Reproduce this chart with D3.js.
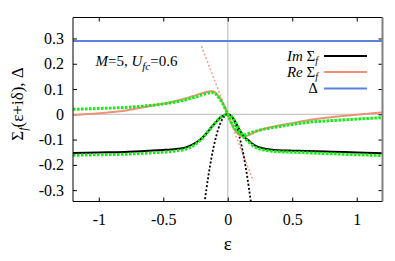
<!DOCTYPE html>
<html>
<head>
<meta charset="utf-8">
<script src="https://cdn.jsdelivr.net/npm/d3@7"></script>
<style>
  body { margin: 0; background: #fff; }
  svg text { font-family: "Liberation Serif", "Times New Roman", serif; fill: #000; }
</style>
</head>
<body>
<script>
var svgWidth = 395;
var svgHeight = 261;

var margin = { top: 17.5, right: 12.5, bottom: 59.5, left: 73 };
var width = svgWidth - margin.left - margin.right;
var height = svgHeight - margin.top - margin.bottom;

// tick values
var xTicks = [-1, -0.5, 0, 0.5, 1];
var yTicks = [-0.3, -0.2, -0.1, 0, 0.1, 0.2, 0.3];

// energy grid (eps) and curves
var epsGrid = [-1.2, -1.0, -0.8, -0.6, -0.5, -0.4, -0.35, -0.3, -0.25, -0.2, -0.15, -0.12, -0.1, -0.08, -0.05, -0.02, 0,
               0.02, 0.05, 0.08, 0.1, 0.13, 0.16, 0.2, 0.23, 0.3, 0.36, 0.5, 0.6, 0.8, 1.0, 1.2];
var imSigma = [-0.153, -0.151, -0.149, -0.144, -0.141, -0.137, -0.134, -0.126, -0.113, -0.094, -0.066, -0.047, -0.036, -0.024, -0.010, -0.002, 0,
               -0.004, -0.022, -0.051, -0.069, -0.090, -0.103, -0.120, -0.128, -0.137, -0.141, -0.144, -0.145, -0.148, -0.151, -0.154];
var reSigma = [-0.003, 0.004, 0.014, 0.033, 0.042, 0.053, 0.060, 0.067, 0.075, 0.083, 0.090, 0.091, 0.087, 0.077, 0.055, 0.025, 0,
               -0.026, -0.058, -0.078, -0.085, -0.088, -0.083, -0.073, -0.066, -0.055, -0.048, -0.035, -0.025, -0.012, -0.002, 0.008];
var imFit = [-0.162, -0.160, -0.158, -0.153, -0.150, -0.145, -0.141, -0.133, -0.118, -0.097, -0.067, -0.048, -0.036, -0.024, -0.010, -0.002, 0,
             -0.004, -0.024, -0.053, -0.072, -0.094, -0.108, -0.126, -0.134, -0.143, -0.147, -0.150, -0.152, -0.156, -0.160, -0.163];
var reFit = [0.020, 0.023, 0.027, 0.035, 0.041, 0.049, 0.054, 0.061, 0.068, 0.077, 0.084, 0.086, 0.083, 0.073, 0.052, 0.023, 0,
             -0.024, -0.053, -0.072, -0.080, -0.081, -0.076, -0.069, -0.065, -0.057, -0.052, -0.040, -0.033, -0.025, -0.019, -0.013];

// low energy expansions (dotted)
var parabEps = [-0.2, -0.18, -0.15, -0.1, -0.05, 0, 0.05, 0.1, 0.15, 0.18, 0.2];
var parabVal = [-0.43, -0.35, -0.243, -0.108, -0.027, 0, -0.027, -0.108, -0.243, -0.35, -0.43];
var slopeEps = [-0.204, 0.198];
var slopeVal = [0.27, -0.264];

var deltaValue = 0.29;

var serif = "'Liberation Serif', 'Times New Roman', serif";

var svg = d3.select("body")
  .append("svg")
  .attr("width", svgWidth)
  .attr("height", svgHeight);

var chartGroup = svg.append("g")
  .attr("transform", `translate(${margin.left}, ${margin.top})`);

var x = d3.scaleLinear().domain([-1.2, 1.2]).range([0, width]);
var y = d3.scaleLinear().domain([-0.345, 0.383]).range([height, 0]);

svg.append("defs").append("clipPath").attr("id", "plotclip")
  .append("rect").attr("width", width).attr("height", height);

// zero lines
chartGroup.append("line")
  .attr("x1", x(0)).attr("x2", x(0)).attr("y1", 0).attr("y2", height)
  .attr("stroke", "#c8c8c8").attr("stroke-width", 1.3);
chartGroup.append("line")
  .attr("x1", 0).attr("x2", width).attr("y1", y(0)).attr("y2", y(0))
  .attr("stroke", "#c8c8c8").attr("stroke-width", 1.3);

var fmt = d => d === 0 ? "0" : String(d);

// axes with inward ticks
chartGroup.append("g")
  .call(d3.axisLeft(y).tickValues(yTicks).tickSize(-4).tickPadding(9).tickFormat(fmt))
  .attr("font-family", serif).attr("font-size", 16)
  .call(g => g.select(".domain").remove());
chartGroup.append("g")
  .attr("transform", `translate(${width},0)`)
  .call(d3.axisRight(y).tickValues(yTicks).tickSize(-4).tickFormat(""))
  .call(g => g.select(".domain").remove());
chartGroup.append("g")
  .attr("transform", `translate(0,${height})`)
  .call(d3.axisBottom(x).tickValues(xTicks).tickSize(-4).tickPadding(12).tickFormat(fmt))
  .attr("font-family", serif).attr("font-size", 16)
  .call(g => g.select(".domain").remove());
chartGroup.append("g")
  .call(d3.axisTop(x).tickValues(xTicks).tickSize(-4).tickFormat(""))
  .call(g => g.select(".domain").remove());

var plot = chartGroup.append("g").attr("clip-path", "url(#plotclip)");

function pts(xs, ys) { return xs.map((e, i) => [e, ys[i]]); }

var line = d3.line()
  .x(d => x(d[0]))
  .y(d => y(d[1]))
  .curve(d3.curveMonotoneX);

// Delta
plot.append("line")
  .attr("x1", 0).attr("x2", width)
  .attr("y1", y(deltaValue)).attr("y2", y(deltaValue))
  .attr("stroke", "#5b84dd").attr("stroke-width", 2);

// dotted expansions
plot.append("path").datum(pts(slopeEps, slopeVal))
  .attr("d", line).attr("fill", "none")
  .attr("stroke", "#f4a08c").attr("stroke-width", 1.6).attr("stroke-dasharray", "2,2");
plot.append("path").datum(pts(parabEps, parabVal))
  .attr("d", line).attr("fill", "none")
  .attr("stroke", "#000").attr("stroke-width", 1.8).attr("stroke-dasharray", "2,2");

// self energy
plot.append("path").datum(pts(epsGrid, reSigma))
  .attr("d", line).attr("fill", "none")
  .attr("stroke", "#ee9078").attr("stroke-width", 2);
plot.append("path").datum(pts(epsGrid, imSigma))
  .attr("d", line).attr("fill", "none")
  .attr("stroke", "#000").attr("stroke-width", 2);

// green dotted fits
[reFit, imFit].forEach(function(vals) {
  plot.append("path").datum(pts(epsGrid, vals))
    .attr("d", line).attr("fill", "none")
    .attr("stroke", "#10f010").attr("stroke-width", 3).attr("stroke-dasharray", "2.5,1.5");
});

// frame
chartGroup.append("path")
  .attr("d", `M${width},0 H0 V${height} H${width}`)
  .attr("fill", "none").attr("stroke", "#000").attr("stroke-width", 1);
chartGroup.append("line")
  .attr("x1", width).attr("x2", width).attr("y1", 0).attr("y2", height)
  .attr("stroke", "#808080").attr("stroke-width", 2);

// annotation
var ann = svg.append("text").attr("x", 95.5).attr("y", 66).style("font-size", "15px");
ann.append("tspan").style("font-style", "italic").text("M");
ann.append("tspan").text("=5, ");
ann.append("tspan").style("font-style", "italic").text("U");
ann.append("tspan").style("font-style", "italic").style("font-size", "11px").attr("dy", 4).text("fc");
ann.append("tspan").attr("dy", -4).text("=0.6");

// legend
var legend = [
  { name: "Im", color: "#000" },
  { name: "Re", color: "#ee9078" },
  { name: null, color: "#5b84dd" }
];
var legRows = [56, 72, 88.5];
legend.forEach(function(d, i) {
  svg.append("line")
    .attr("x1", 324).attr("x2", 367)
    .attr("y1", legRows[i]).attr("y2", legRows[i])
    .attr("stroke", d.color).attr("stroke-width", 2);
  var t = svg.append("text")
    .attr("x", 318).attr("y", legRows[i] + 4.5)
    .attr("text-anchor", "end").style("font-size", "15px");
  if (d.name) {
    t.append("tspan").style("font-style", "italic").text(d.name + " ");
    t.append("tspan").text("\u03A3");
    t.append("tspan").style("font-style", "italic").style("font-size", "10px").attr("dy", 3).text("f");
  } else {
    t.append("tspan").text("\u0394");
  }
});

// axis labels
svg.append("text")
  .attr("x", x(0) + margin.left).attr("y", 250)
  .attr("text-anchor", "middle").style("font-size", "19px")
  .text("\u03B5");

var yl = svg.append("text")
  .attr("transform", "translate(23,104) rotate(-90)")
  .attr("text-anchor", "middle").style("font-size", "17px");
yl.append("tspan").text("\u03A3");
yl.append("tspan").style("font-style", "italic").style("font-size", "12px").attr("dy", 4).text("f");
yl.append("tspan").attr("dy", -4).text("(\u03B5+i\u03B4), \u0394");
</script>
</body>
</html>
